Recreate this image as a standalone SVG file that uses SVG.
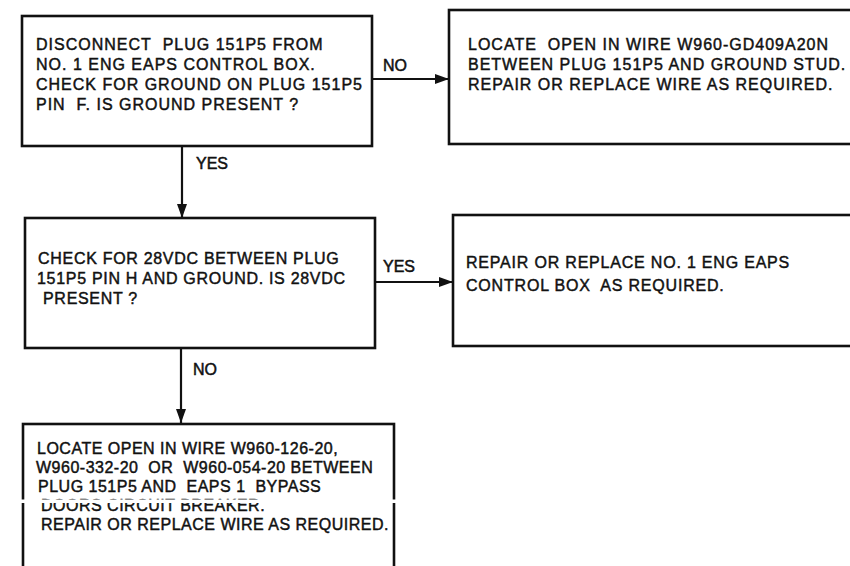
<svg xmlns="http://www.w3.org/2000/svg" width="850" height="566" viewBox="0 0 850 566">
  <style>
    .box { fill: #ffffff; stroke: #111111; stroke-width: 2.6; }
    .t { font-family: "Liberation Sans", Arial, Helvetica, sans-serif; font-size: 16px; fill: #111111; stroke: #111111; stroke-width: 0.45px; }
    .lbl { font-family: "Liberation Sans", Arial, Helvetica, sans-serif; font-size: 16px; fill: #111111; stroke: #111111; stroke-width: 0.5px; }
    .edge { stroke: #111111; stroke-width: 2.2; fill: none; }
  </style>
  <defs>
    <marker id="arrow" viewBox="0 0 14 10" refX="14" refY="5" markerWidth="14" markerHeight="10" markerUnits="userSpaceOnUse" orient="auto">
      <path d="M0,0 L14,5 L0,10 Z" fill="#111111"/>
    </marker>
  </defs>
  <rect width="850" height="566" fill="#ffffff"/>

  <g id="connectors">
    <line class="edge" x1="372" y1="79" x2="449" y2="79" marker-end="url(#arrow)"/>
    <line class="edge" x1="182" y1="146" x2="182" y2="218" marker-end="url(#arrow)"/>
    <line class="edge" x1="375" y1="282" x2="453" y2="282" marker-end="url(#arrow)"/>
    <line class="edge" x1="181" y1="348" x2="181" y2="423" marker-end="url(#arrow)"/>
    <text class="lbl" x="383" y="71">NO</text>
    <text class="lbl" x="196" y="169">YES</text>
    <text class="lbl" x="383" y="272">YES</text>
    <text class="lbl" x="193" y="375">NO</text>
  </g>

  <g id="node-check-ground">
    <rect class="box" x="22" y="16" width="350" height="130"/>
    <text class="t" style="letter-spacing:1px">
      <tspan x="36" y="50">DISCONNECT&#160; PLUG 151P5 FROM</tspan>
      <tspan x="36" y="70">NO. 1 ENG EAPS CONTROL BOX.</tspan>
      <tspan x="36" y="90">CHECK FOR GROUND ON PLUG 151P5</tspan>
      <tspan x="36" y="110">PIN&#160; F. IS GROUND PRESENT ?</tspan>
    </text>
  </g>

  <g id="node-locate-ground-wire">
    <rect class="box" x="449" y="10" width="420" height="134"/>
    <text class="t" style="letter-spacing:1px">
      <tspan x="468" y="50">LOCATE&#160; OPEN IN WIRE W960-GD409A20N</tspan>
      <tspan x="468" y="70">BETWEEN PLUG 151P5 AND GROUND STUD.</tspan>
      <tspan x="468" y="90">REPAIR OR REPLACE WIRE AS REQUIRED.</tspan>
    </text>
  </g>

  <g id="node-check-28vdc">
    <rect class="box" x="25" y="218" width="350" height="130"/>
    <text class="t" style="letter-spacing:0.7px">
      <tspan x="38" y="264">CHECK FOR 28VDC BETWEEN PLUG</tspan>
      <tspan x="37" y="284">151P5 PIN H AND GROUND. IS 28VDC</tspan>
      <tspan x="43" y="304">PRESENT ?</tspan>
    </text>
  </g>

  <g id="node-replace-control-box">
    <rect class="box" x="453" y="215" width="420" height="131"/>
    <text class="t" style="letter-spacing:0.8px">
      <tspan x="466" y="268">REPAIR OR REPLACE NO. 1 ENG EAPS</tspan>
      <tspan x="466" y="291">CONTROL BOX&#160; AS REQUIRED.</tspan>
    </text>
  </g>

  <g id="node-locate-bypass-wire">
    <rect class="box" x="23" y="424" width="371" height="160"/>
    <text class="t" style="letter-spacing:0.5px">
      <tspan x="37" y="454">LOCATE OPEN IN WIRE W960-126-20,</tspan>
      <tspan x="36" y="473">W960-332-20&#160; OR&#160; W960-054-20 BETWEEN</tspan>
      <tspan x="38" y="492">PLUG 151P5 AND&#160; EAPS 1&#160; BYPASS</tspan>
      <tspan x="41" y="511">DOORS CIRCUIT BREAKER.</tspan>
      <tspan x="41" y="530">REPAIR OR REPLACE WIRE AS REQUIRED.</tspan>
    </text>
    <rect x="18" y="499.5" width="382" height="3.5" fill="#ffffff"/>
  </g>
</svg>
